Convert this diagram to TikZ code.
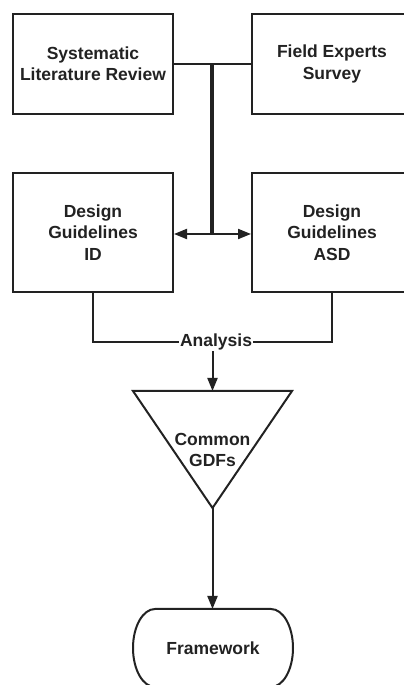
\documentclass[tikz,border=0pt]{standalone}
\usepackage{fontspec}
\setmainfont{Liberation Sans}
\usetikzlibrary{arrows.meta}
\definecolor{ink}{HTML}{222222}
\tikzset{
  box/.style={draw=ink, line width=2pt, minimum width=160pt, align=center, inner sep=0pt},
  lbl/.style={text=ink, font=\fontsize{17.5}{21.5}\selectfont\bfseries, align=center},
  conn/.style={draw=ink, line width=2pt},
  arr/.style={conn, -{Triangle[length=13pt,width=10pt]}},
  thick bar/.style={draw=ink, line width=4pt}
}
\begin{document}
\begin{tikzpicture}[x=1pt,y=1pt]
\useasboundingbox (0,0) rectangle (404,685);
% boxes
\node[box, lbl, minimum height=100pt] (slr) at (93,621) {Systematic\\Literature Review};
\node[box, lbl, minimum height=100pt] (fes) at (332,621) {Field Experts\\Survey};
\node[box, lbl, minimum height=119pt] (id) at (93,452.5) {Design\\Guidelines\\ID};
\node[box, lbl, minimum height=119pt] (asd) at (332,452.5) {Design\\Guidelines\\ASD};
% junction
\coordinate (jt) at (212,621);
\coordinate (jb) at (212,451);
\draw[conn] (slr.east) -- (fes.west);
\draw[thick bar] (jt) -- (jb);
\draw[arr] (jb) -- (id.east |- jb);
\draw[arr] (jb) -- (asd.west |- jb);
% analysis
\coordinate (al) at (93,343);
\coordinate (ar) at (332,343);
\draw[conn] (id.south) -- (al) -- (ar) -- (asd.south);
\node[lbl, fill=white, inner sep=1pt] (anl) at (216,343) {Analysis};
% triangle
\coordinate (tl) at (133,294);
\coordinate (tr) at (292,294);
\coordinate (apex) at (212.5,177);
\coordinate (ttop) at (212.5,294);
\draw[draw=ink, line width=2pt, line join=miter] (tl) -- (tr) -- (apex) -- cycle;
\node[lbl] (gdf) at (212.5,235) {Common\\GDFs};
\draw[arr] (anl.south -| ttop) -- (ttop);
% framework
\coordinate (fwtop) at (212.5,76);
\draw[draw=ink, line width=2pt] (155,76) -- (271,76)
  arc[start angle=90, end angle=-90, x radius=22, y radius=39]
  -- (155,-2)
  arc[start angle=270, end angle=90, x radius=22, y radius=39] -- cycle;
\node[lbl] (fw) at (213,37) {Framework};
\draw[arr] (apex) -- (fwtop);
\end{tikzpicture}
\end{document}
